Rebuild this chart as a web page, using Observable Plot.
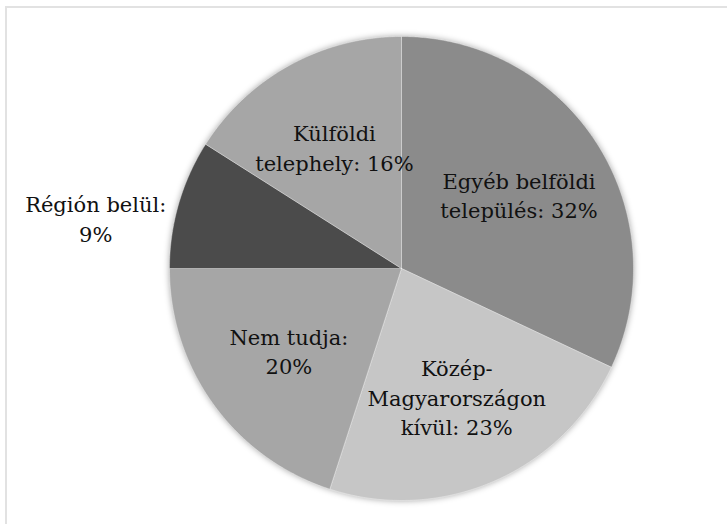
<!DOCTYPE html>
<html>
<head>
<meta charset="utf-8">
<script src="https://cdn.jsdelivr.net/npm/d3@7"></script>
<script src="https://cdn.jsdelivr.net/npm/@observablehq/plot@0.6"></script>
<style>
  html, body { margin: 0; padding: 0; background: #fff; overflow: hidden; }
  #wrap { position: relative; width: 727px; height: 524px; overflow: hidden; }
  #frame { position: absolute; left: 5px; top: 6px; width: 900px; height: 900px;
           border: 2px solid #e2e2e2; box-sizing: border-box; pointer-events: none; }
</style>
</head>
<body>
<div id="wrap"><div id="frame"></div></div>
<script>
// ---- data ----
const categories = [
  "Egyéb belföldi település",
  "Közép-Magyarországon kívül",
  "Nem tudja",
  "Régión belül",
  "Külföldi telephely"
];
const values = [32, 23, 20, 9, 16];
const labelLines = [
  "Egyéb belföldi\ntelepülés: 32%",
  "Közép-\nMagyarországon\nkívül: 23%",
  "Nem tudja:\n20%",
  "Régión belül:\n9%",
  "Külföldi\ntelephely: 16%"
];
const colors = ["#8b8b8b", "#c6c6c6", "#a6a6a6", "#4b4b4b", "#a6a6a6"];

// ---- layout config ----
const W = 727, H = 524, CX = 401, CY = 268, R = 232;

const arcs = d3.pie().sort(null).value(d => d)(values);
const points = [];
arcs.forEach((a, i) => {
  const name = categories[i];
  points.push({name, x: 0, y: 0});
  const n = Math.max(2, Math.ceil((a.endAngle - a.startAngle) / (Math.PI / 360)));
  for (let k = 0; k <= n; k++) {
    const t = a.startAngle + (a.endAngle - a.startAngle) * k / n;
    points.push({name, x: Math.sin(t), y: Math.cos(t)});
  }
  points.push({name, x: 0, y: 0});
});

const inside = [], outside = [];
arcs.forEach((a, i) => {
  const mid = (a.startAngle + a.endAngle) / 2;
  if (values[i] >= 10) {
    inside.push({label: labelLines[i], x: 0.6 * Math.sin(mid), y: 0.6 * Math.cos(mid)});
  } else {
    outside.push({label: labelLines[i], x: Math.sin(mid), y: Math.cos(mid)});
  }
});

const ff = "DejaVu Serif";
const textStyle = {fontSize: 21, fontFamily: ff, lineHeight: 1.4, fill: "#111111"};

const chart = Plot.plot({
  width: W, height: H, margin: 0,
  style: {fontFamily: ff, background: "transparent"},
  x: {domain: [-CX / R, (W - CX) / R], axis: null},
  y: {domain: [-(H - CY) / R, CY / R], axis: null},
  color: {domain: categories, range: colors},
  marks: [
    Plot.line(points, {x: "x", y: "y", z: "name", fill: "name", stroke: "#ffffff", strokeWidth: 1, strokeOpacity: 0.35}),
    Plot.text(inside, {x: "x", y: "y", text: "label", ...textStyle}),
    Plot.text(outside, {x: "x", y: "y", text: "label", textAnchor: "middle", dx: -83, dy: 14, ...textStyle})
  ]
});
chart.style.position = "absolute";
chart.style.left = "0px";
chart.style.top = "0px";
const lineG = chart.querySelector('g[aria-label="line"]');
if (lineG) lineG.style.filter = "drop-shadow(0px 0px 3px rgba(0,0,0,0.35))";
document.getElementById("wrap").appendChild(chart);
</script>
</body>
</html>
